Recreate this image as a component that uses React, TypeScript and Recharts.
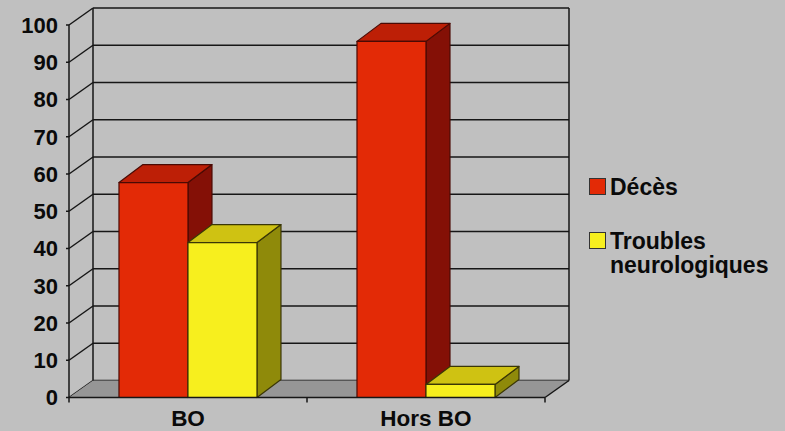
import { Bar, BarChart, CartesianGrid, Legend, ReferenceArea, XAxis, YAxis } from "recharts";

const categories = ["BO", "Hors BO"];
const deces = [57.7, 95.6];
const troubles = [41.6, 3.5];
const yTicks = [0, 10, 20, 30, 40, 50, 60, 70, 80, 90, 100];

const rows = categories.map((name, i) => ({ name, deces: deces[i], troubles: troubles[i] }));

const INK = "#161616";
const FONT = '"Liberation Sans", Arial, sans-serif';
// depth of the fake 3D walls and of the columns
const WALL_DX = 24;
const WALL_DY = 17;
const BAR_DX = 24;
const BAR_DY = 18;

function box(colors: { top: string; side: string; edge: string }) {
  return (props: any) => {
    const { x, y, width, height, fill } = props;
    const r = x + width;
    const b = y + height;
    return (
      <g stroke={colors.edge} strokeWidth={1.2} strokeLinejoin="round">
        <polygon fill={colors.side} points={`${r},${y} ${r + BAR_DX},${y - BAR_DY} ${r + BAR_DX},${b - BAR_DY} ${r},${b}`} />
        <polygon fill={colors.top} points={`${x},${y} ${x + BAR_DX},${y - BAR_DY} ${r + BAR_DX},${y - BAR_DY} ${r},${y}`} />
        <rect x={x} y={y} width={width} height={height} fill={fill} />
      </g>
    );
  };
}

function gridLine(props: any) {
  const { x1, x2, y1, index } = props;
  return (
    <g key={`wall-${index}`} stroke={INK} strokeWidth={1.5}>
      <line x1={x1} y1={y1} x2={x1 + WALL_DX} y2={y1 - WALL_DY} />
      <line x1={x1 + WALL_DX} y1={y1 - WALL_DY} x2={x2 + WALL_DX} y2={y1 - WALL_DY} />
    </g>
  );
}

// floor, side walls and the tick marks between categories
function Walls(props: any) {
  const { x, y, width, height } = props;
  const r = x + width;
  const b = y + height;
  const step = width / categories.length;
  return (
    <g>
      <polygon fill="#969696" points={`${x},${b} ${x + WALL_DX},${b - WALL_DY} ${r + WALL_DX},${b - WALL_DY} ${r},${b}`} />
      <g stroke={INK} strokeWidth={1.5}>
        <line x1={x + WALL_DX} y1={y - WALL_DY} x2={x + WALL_DX} y2={b - WALL_DY} />
        <line x1={r + WALL_DX} y1={y - WALL_DY} x2={r + WALL_DX} y2={b - WALL_DY} />
        <line x1={r} y1={b} x2={r + WALL_DX} y2={b - WALL_DY} />
        {[0, 1, 2].map((i) => (
          <line key={i} x1={x + i * step} y1={b} x2={x + i * step} y2={b + 5} />
        ))}
      </g>
    </g>
  );
}

function LegendList({ payload }: any) {
  return (
    <div style={{ fontFamily: FONT, fontWeight: 700, fontSize: 23, lineHeight: "24px", color: "#0a0a0a" }}>
      {(payload ?? []).map((entry: any, i: number) => (
        <div key={entry.value} style={{ position: "relative", paddingLeft: 21, marginBottom: i === 0 ? 30 : 0, width: 175 }}>
          <span
            style={{
              position: "absolute",
              left: 0,
              top: 3,
              width: 15,
              height: 15,
              background: entry.color,
              border: "1.5px solid #333",
            }}
          />
          {entry.value}
        </div>
      ))}
    </div>
  );
}

export default function App() {
  return (
    <div style={{ position: "absolute", left: 0, top: 0, width: 785, height: 431, background: "#c0c0c0" }}>
      <BarChart
        width={785}
        height={431}
        data={rows}
        margin={{ top: 25, right: 240, bottom: 0, left: 0 }}
        barCategoryGap="21%"
        barGap={0}
      >
        <ReferenceArea y1={0} y2={100} ifOverflow="visible" shape={<Walls />} />
        <CartesianGrid vertical={false} horizontal={gridLine} />
        <XAxis
          dataKey="name"
          height={33.5}
          tickLine={false}
          stroke={INK}
          strokeWidth={1.5}
          tickMargin={7}
          tick={{ fill: "#0a0a0a", fontSize: 22.5, fontWeight: 700, fontFamily: FONT }}
        />
        <YAxis
          width={69}
          domain={[0, 100]}
          ticks={yTicks}
          interval={0}
          tickSize={3}
          tickMargin={8}
          stroke={INK}
          strokeWidth={1.5}
          tick={{ fill: "#0a0a0a", fontSize: 22, fontWeight: 700, fontFamily: FONT }}
        />
        <Legend
          layout="vertical"
          align="center"
          verticalAlign="middle"
          content={<LegendList />}
          wrapperStyle={{ left: 589, top: 175, width: 190 }}
        />
        <Bar
          dataKey="deces"
          name="Décès"
          fill="#e32a06"
          isAnimationActive={false}
          shape={box({ top: "#bd1f06", side: "#841006", edge: "#4a0a04" })}
        />
        <Bar
          dataKey="troubles"
          name="Troubles neurologiques"
          fill="#f7ef1e"
          isAnimationActive={false}
          shape={box({ top: "#cfc212", side: "#8f8a0a", edge: "#3a3606" })}
        />
      </BarChart>
    </div>
  );
}
